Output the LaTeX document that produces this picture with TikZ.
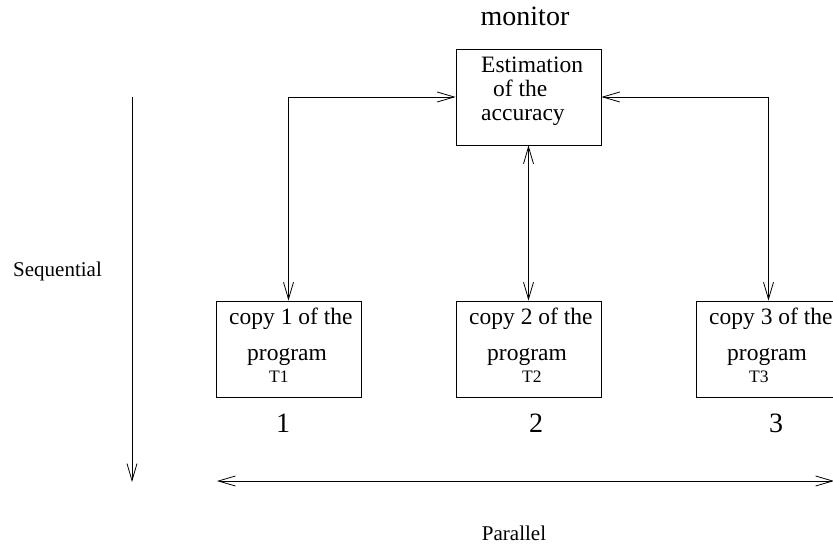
\documentclass[tikz,border=0pt]{standalone}
\usepackage{fontspec}
\setmainfont{Liberation Serif}
\usetikzlibrary{arrows.meta,positioning}
\tikzset{
  progbox/.style={
    draw,
    line width=0.8pt,
    minimum width=145pt,
    minimum height=96pt,
    inner sep=0pt
  },
  boxtext/.style={
    font=\fontsize{23.5}{24}\selectfont,
    inner sep=0pt
  },
  tagtext/.style={
    font=\fontsize{17.5}{20}\selectfont,
    inner sep=0pt
  },
  axistext/.style={
    font=\fontsize{21}{24}\selectfont,
    inner sep=0pt
  },
  bigtext/.style={
    font=\fontsize{28}{30}\selectfont,
    inner sep=0pt
  },
  link/.style={
    line width=0.8pt,
    >={Straight Barb[length=17pt,width=10pt]}
  }
}
\begin{document}
\begin{tikzpicture}[x=1pt,y=-1pt]
        \useasboundingbox (0,0) rectangle (833,545);
        % monitor
        \node[bigtext,anchor=base] (mon) at (525,26) {monitor};
        \node[progbox] (est) at (528.5,97) {};
        \node[boxtext,anchor=base west] (esta) at (481,73) {Estimation};
        \node[boxtext,anchor=base west] (estb) at (493,97) {of the};
        \node[boxtext,anchor=base west] (estc) at (481,121) {accuracy};
        % copies of the program
        \node[progbox] (copy1) at (288.5,349) {};
        \node[boxtext,anchor=base west] (copy1a) at (229,325) {copy 1 of the};
        \node[boxtext,anchor=base west] (copy1b) at (247,361) {program};
        \node[tagtext,anchor=base west] (copy1c) at (269,382) {T1};
        \node[bigtext,anchor=base] (num1) at (283,432) {1};
        \node[progbox] (copy2) at (528.5,349) {};
        \node[boxtext,anchor=base west] (copy2a) at (469,325) {copy 2 of the};
        \node[boxtext,anchor=base west] (copy2b) at (487,361) {program};
        \node[tagtext,anchor=base west] (copy2c) at (522,382) {T2};
        \node[bigtext,anchor=base] (num2) at (536,432) {2};
        \node[progbox] (copy3) at (768.5,349) {};
        \node[boxtext,anchor=base west] (copy3a) at (709,325) {copy 3 of the};
        \node[boxtext,anchor=base west] (copy3b) at (727,361) {program};
        \node[tagtext,anchor=base west] (copy3c) at (749,382) {T3};
        \node[bigtext,anchor=base] (num3) at (776,432) {3};
        % links
        \draw[link,<->] (est.west) -| (copy1.north);
        \draw[link,<->] (est.south) -- (copy2.north);
        \draw[link,<->] (est.east) -| (copy3.north);
        % axes
        \coordinate (seqtop) at (132,97);
        \coordinate (seqbot) at (132,482);
        \draw[link,->] (seqtop) -- (seqbot);
        \node[axistext,anchor=base] (seq) at (57.5,277) {Sequential};
        \coordinate (parl) at (217,481);
        \coordinate (parr) at (834,481);
        \draw[link,<->] (parl) -- (parr);
        \node[axistext,anchor=base] (par) at (514,540) {Parallel};
    \end{tikzpicture}
\end{document}
